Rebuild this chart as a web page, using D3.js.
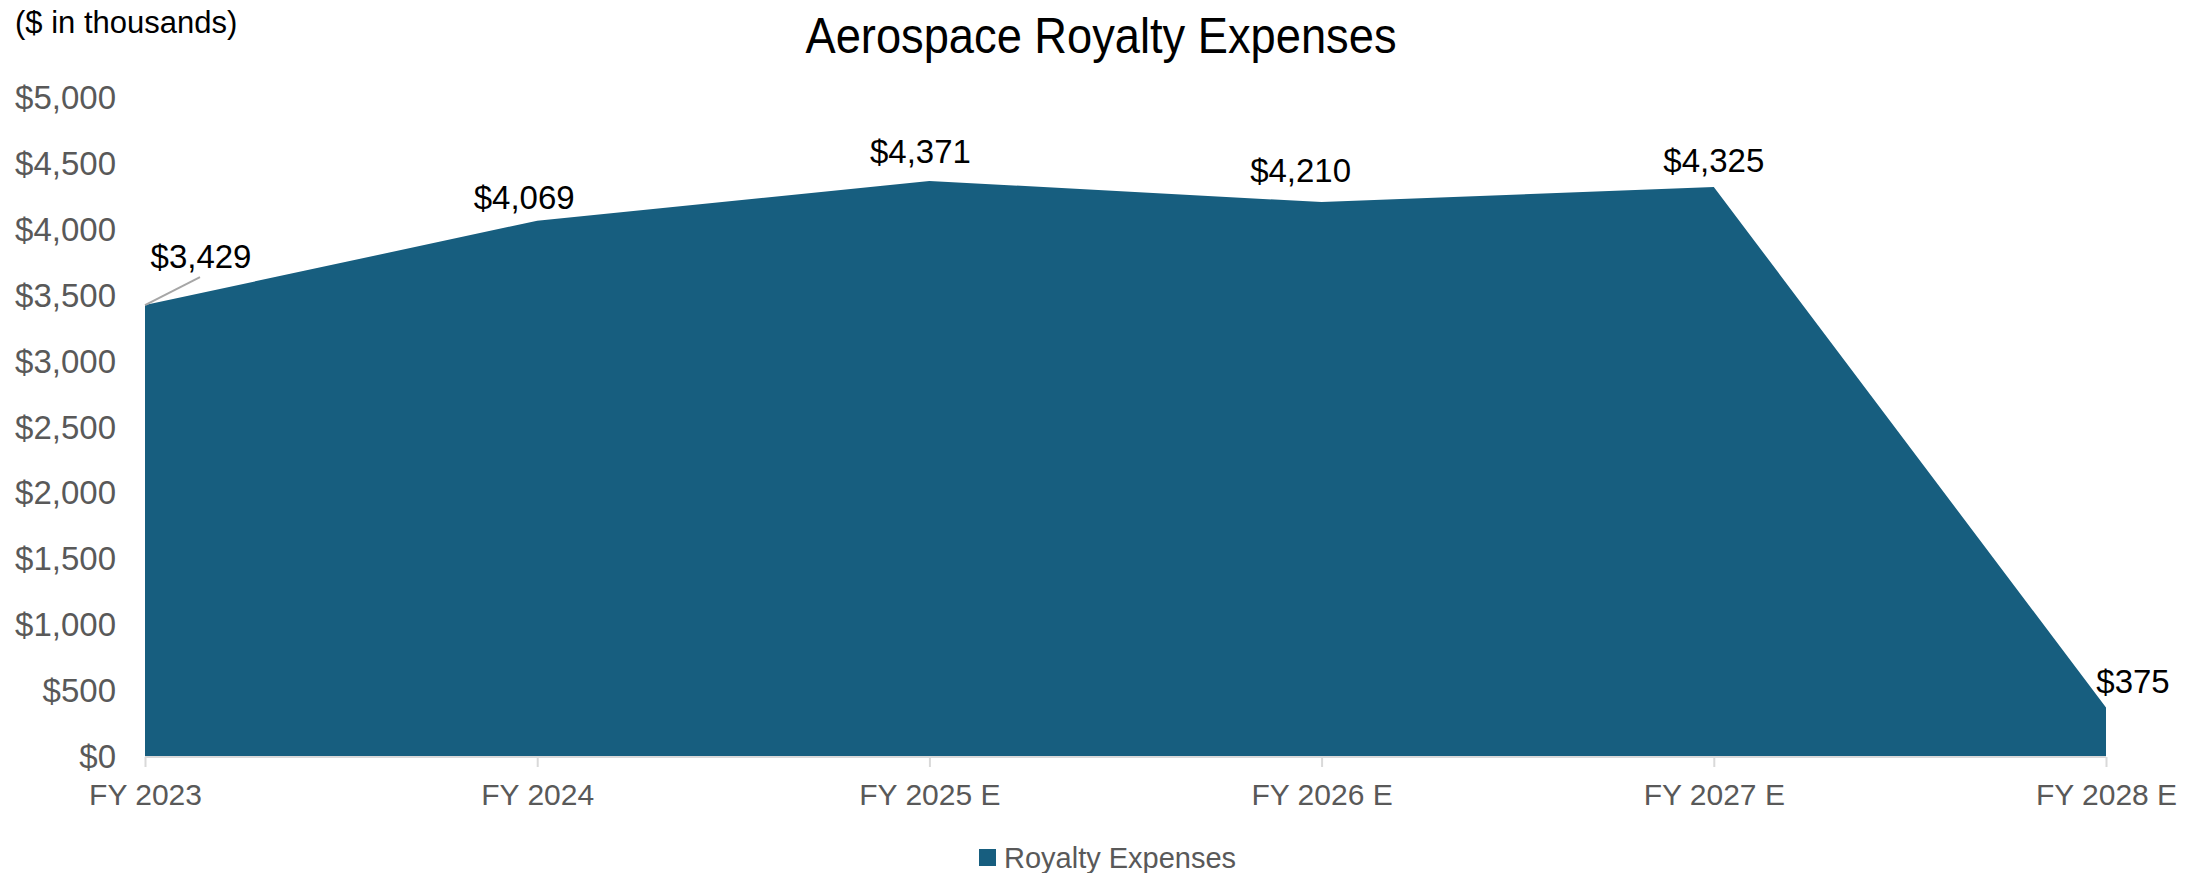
<!DOCTYPE html>
<html>
<head>
<meta charset="utf-8">
<script src="https://cdn.jsdelivr.net/npm/d3@7"></script>
<style>
  body { margin: 0; background: #fff; }
  text { font-family: "Liberation Sans", Arial, sans-serif; }
  .axis path { display: none; }
  .axis line { stroke: #d9d9d9; stroke-width: 2; }
  .axis text { fill: #595959; }
</style>
</head>
<body>
<svg width="2203" height="873"></svg>
<script>
(function(d3) {
  'use strict';

  const categories = ['FY 2023', 'FY 2024', 'FY 2025 E', 'FY 2026 E', 'FY 2027 E', 'FY 2028 E'];
  const royaltyExpenses = [3429, 4069, 4371, 4210, 4325, 375];
  const yTicks = [0, 500, 1000, 1500, 2000, 2500, 3000, 3500, 4000, 4500, 5000];

  const svg = d3.select('svg');
  const margin = {top: 98, right: 97, bottom: 116, left: 145};
  const width = +svg.attr('width');
  const height = +svg.attr('height');
  const innerWidth = width - margin.left - margin.right;
  const innerHeight = height - margin.top - margin.bottom;

  const data = categories.map(function(c, i) {
    return {cat: c, value: royaltyExpenses[i]};
  });

  const xScale = d3.scalePoint().domain(categories).range([0, innerWidth]);
  const yScale = d3.scaleLinear().domain([0, 5000]).range([innerHeight, 0]);
  const money = d3.format('$,');

  const g = svg.append('g')
      .attr('transform', `translate(${margin.left},${margin.top})`);

  // title (condensed) + unit note
  svg.append('text')
      .attr('x', 1101).attr('y', 53)
      .attr('text-anchor', 'middle')
      .attr('textLength', 591)
      .attr('lengthAdjust', 'spacingAndGlyphs')
      .style('font-size', '50px')
      .attr('fill', '#000')
      .text('Aerospace Royalty Expenses');

  svg.append('text')
      .attr('x', 15).attr('y', 33)
      .style('font-size', '31px')
      .attr('fill', '#000')
      .text('($ in thousands)');

  // the area
  const area = d3.area()
      .x(function(d) { return xScale(d.cat); })
      .y0(yScale(0))
      .y1(function(d) { return yScale(d.value); });

  g.append('path')
      .datum(data)
      .attr('fill', '#175e7f')
      .attr('d', area);

  // y axis (labels only)
  const yAxis = d3.axisLeft(yScale)
      .tickValues(yTicks)
      .tickSize(0)
      .tickPadding(29)
      .tickFormat(money);
  g.append('g').attr('class', 'axis')
      .call(yAxis)
      .selectAll('text')
      .style('font-size', '33px');

  // x axis
  const xAxis = d3.axisBottom(xScale).tickSize(10).tickPadding(17);
  const xAxisG = g.append('g').attr('class', 'axis')
      .attr('transform', `translate(0,${innerHeight})`)
      .call(xAxis);
  xAxisG.selectAll('text').style('font-size', '30px');
  xAxisG.append('line')
      .attr('x1', 0).attr('x2', innerWidth)
      .attr('y1', 0).attr('y2', 0);

  // data labels
  const labelOffsets = [[56, -49], [-13, -23], [-9, -29], [-21, -32], [0, -27], [27, -26]];
  const labels = g.selectAll('.data-label').data(data);
  labels.enter().append('text')
      .attr('class', 'data-label')
      .attr('text-anchor', 'middle')
      .attr('dy', '0.35em')
      .attr('x', function(d, i) { return xScale(d.cat) + labelOffsets[i][0]; })
      .attr('y', function(d, i) { return yScale(d.value) + labelOffsets[i][1]; })
      .style('font-size', '33px')
      .attr('fill', '#000')
      .text(function(d) { return money(d.value); });

  // leader line for the first label
  const first = data[0];
  g.append('line')
      .attr('x1', xScale(first.cat))
      .attr('y1', yScale(first.value))
      .attr('x2', xScale(first.cat) + 55)
      .attr('y2', yScale(first.value) - 28)
      .attr('stroke', '#a6a6a6')
      .attr('stroke-width', 2);

  // legend
  const legend = svg.append('g').attr('transform', 'translate(979,849)');
  legend.append('rect')
      .attr('width', 17).attr('height', 17)
      .attr('fill', '#175e7f');
  legend.append('text')
      .attr('x', 25).attr('y', 9)
      .attr('dy', '0.35em')
      .style('font-size', '29px')
      .attr('fill', '#595959')
      .text('Royalty Expenses');
}(d3));
</script>
</body>
</html>
